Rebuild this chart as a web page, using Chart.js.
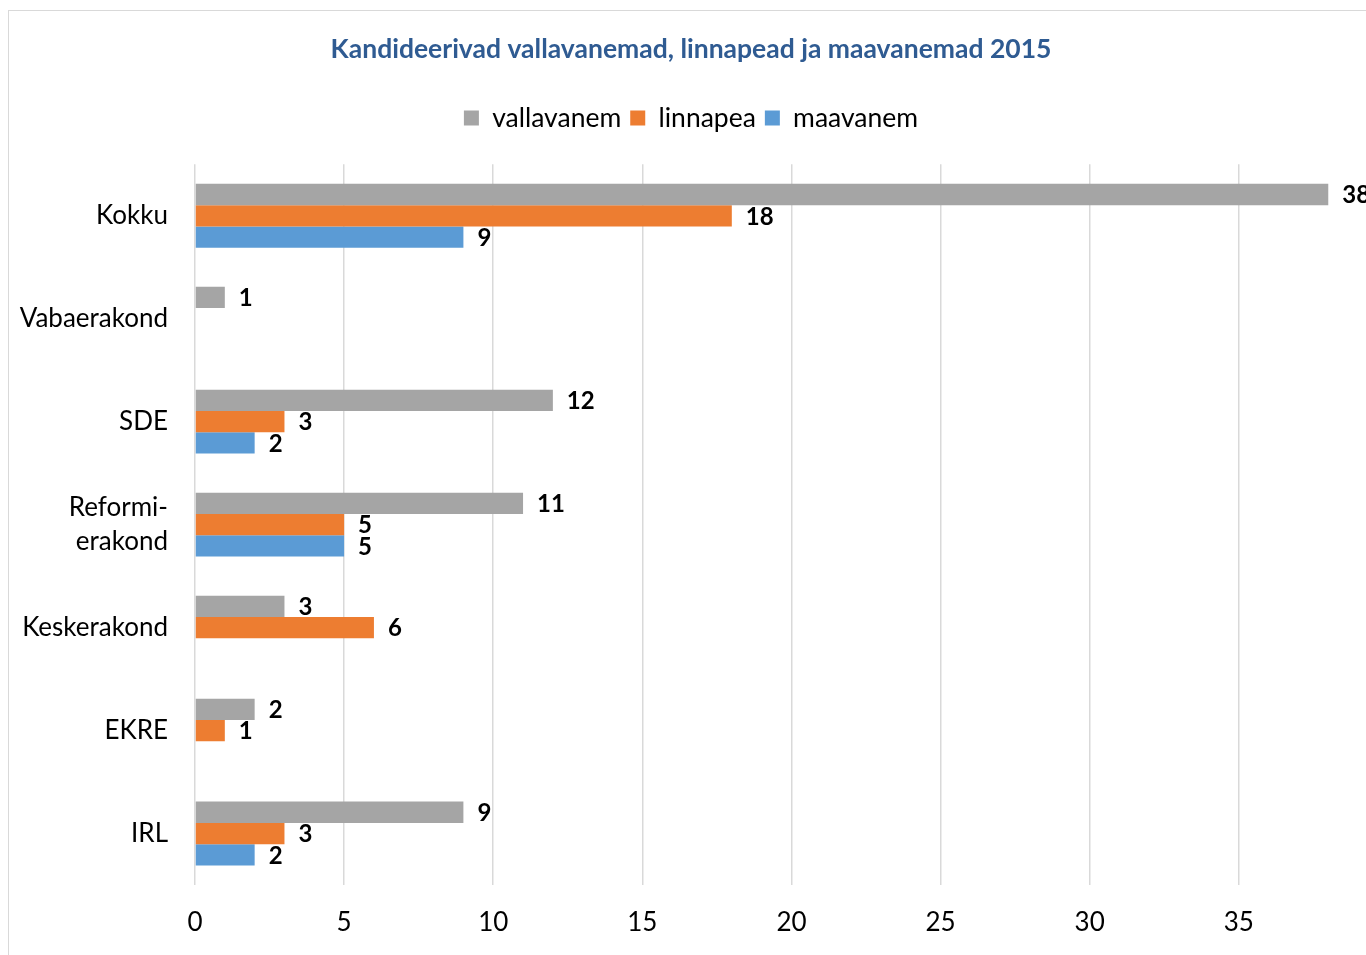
<!DOCTYPE html>
<html>
<head>
<meta charset="utf-8">
<script src="https://cdn.jsdelivr.net/npm/chart.js@4"></script>
<style>
  html, body { margin: 0; padding: 0; background: #fff; overflow: hidden; }
  #frame { position: absolute; left: 8px; top: 10px; width: 1400px; height: 960px; border: 1px solid #d9d9d9; }
</style>
</head>
<body>
<div id="frame"><canvas id="partyChart" width="1364" height="944"></canvas></div>
<script>
const parties = ['Kokku', 'Vabaerakond', 'SDE', ['Reformi-', 'erakond'], 'Keskerakond', 'EKRE', 'IRL'];
const seriesNames = ['vallavanem', 'linnapea', 'maavanem'];
const vallavanem = [38, 1, 12, 11, 3, 2, 9];
const linnapea = [18, null, 3, 5, 6, 1, 3];
const maavanem = [9, null, 2, 5, null, null, 2];
const xTicks = [0, 5, 10, 15, 20, 25, 30, 35];

const FONT = 'Lato';

// value labels at the end of each bar
const barLabels = {
    id: 'barLabels',
    afterDatasetsDraw(chart) {
        const ctx = chart.ctx;
        ctx.save();
        ctx.font = 'bold 24px ' + FONT;
        ctx.fillStyle = '#000';
        ctx.textBaseline = 'middle';
        ctx.textAlign = 'left';
        chart.data.datasets.forEach((ds, i) => {
            chart.getDatasetMeta(i).data.forEach((bar, j) => {
                const v = ds.data[j];
                if (v == null) return;
                ctx.fillText(String(v), bar.x + 14, bar.y + 1);
            });
        });
        ctx.restore();
    }
};

const ctx = document.getElementById('partyChart').getContext('2d');
const partyChart = new Chart(ctx, {
    type: 'bar',
    data: {
        labels: parties,
        datasets: [
            { label: seriesNames[0], data: vallavanem, backgroundColor: '#a5a5a5' },
            { label: seriesNames[1], data: linnapea, backgroundColor: '#ed7d31' },
            { label: seriesNames[2], data: maavanem, backgroundColor: '#5b9bd5' }
        ]
    },
    options: {
        indexAxis: 'y',
        responsive: false,
        animation: false,
        datasets: {
            bar: { barPercentage: 1, categoryPercentage: 0.62 }
        },
        layout: { padding: 0 },
        plugins: {
            title: {
                display: true,
                text: 'Kandideerivad vallavanemad, linnapead ja maavanemad 2015',
                color: '#2f5b92',
                font: { family: FONT, size: 26.5, weight: 'bold', lineHeight: 1.2 },
                padding: { top: 23, bottom: 30 }
            },
            legend: {
                position: 'top',
                labels: {
                    color: '#000',
                    font: { family: FONT, size: 26.5 },
                    boxWidth: 15,
                    boxHeight: 15,
                    padding: 9
                }
            },
            tooltip: { enabled: false }
        },
        scales: {
            x: {
                min: 0,
                max: 39.5,
                afterBuildTicks: scale => { scale.ticks = xTicks.map(v => ({ value: v })); },
                grid: { color: '#d9d9d9', lineWidth: 1.5, drawTicks: false },
                border: { display: false },
                ticks: { color: '#000', font: { family: FONT, size: 26 }, padding: 22 },
                afterFit: scale => { scale.height = 70; }
            },
            xTop: {
                type: 'linear',
                position: 'top',
                display: true,
                grid: { display: false },
                border: { display: false },
                ticks: { display: false },
                afterFit: scale => { scale.height = 23; }
            },
            y: {
                grid: { display: false },
                border: { display: false },
                ticks: { color: '#000', font: { family: FONT, size: 26, lineHeight: 1.31 }, padding: 19 },
                afterFit: scale => { scale.width = 186; }
            }
        }
    },
    plugins: [barLabels]
});
</script>
</body>
</html>
